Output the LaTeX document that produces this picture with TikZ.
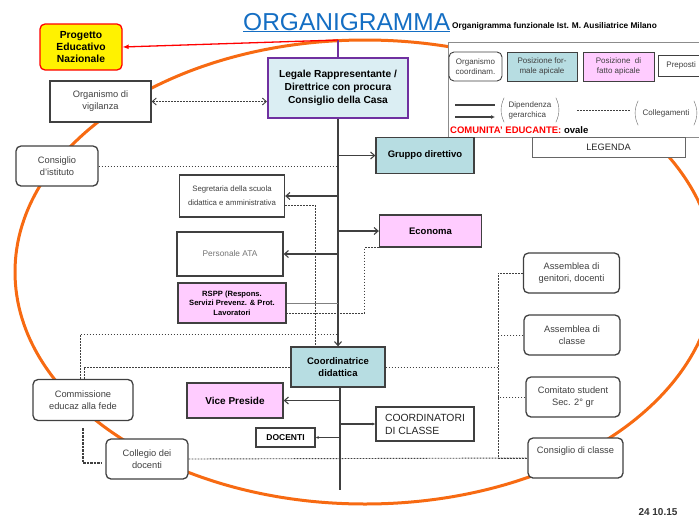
\documentclass[tikz,border=0pt]{standalone}
\usepackage{fontspec}
\setmainfont{Liberation Sans}
\usepackage{xcolor}
\usepackage{tikz}
\usetikzlibrary{arrows.meta,positioning}

\definecolor{boxline}{RGB}{64,64,64}
\definecolor{tealfill}{RGB}{183,221,226}
\definecolor{pinkfill}{RGB}{255,204,255}
\definecolor{lightfill}{RGB}{219,238,243}
\definecolor{ovalorange}{RGB}{247,106,18}
\definecolor{titleblue}{RGB}{20,110,195}
\definecolor{legpurple}{RGB}{112,48,160}
\newcommand{\fsz}[2]{\fontsize{#1}{#2}\selectfont}

\begin{document}
\begin{tikzpicture}[x=1pt, y=-1pt,
  box/.style={rectangle, draw=boxline, line width=1.3pt, inner sep=1pt, align=center, fill=white, text=black!75, font=\fsz{9.3}{12}},
  rbox/.style={box, rounded corners=5pt},
  tealbox/.style={box, fill=tealfill, text=black, font=\fsz{9.5}{12}\bfseries},
  pinkbox/.style={box, fill=pinkfill, text=black, font=\fsz{9.5}{12}\bfseries},
  legtext/.style={font=\fsz{8}{10}, text=black!75},
  link/.style={draw=boxline, line width=0.9pt, dash pattern=on 1.8pt off 1.2pt},
  hier/.style={draw=boxline, line width=1.1pt},
  barb/.style={hier, -{Straight Barb[length=4pt,width=7pt]}},
  dotarr/.style={hier, -{Latex[length=3pt,width=3pt]}}]
            \useasboundingbox (0,0) rectangle (699,517);
            \clip (0,0) rectangle (699,517);

            \draw [ovalorange, line width=3pt] (365,272) ellipse [x radius=350, y radius=232];

            \node (title) [anchor=base west, inner sep=0pt, text=titleblue, font=\fsz{24.5}{28}] at (243,30) {\underline{ORGANIGRAMMA}};
            \node (sub) [anchor=base west, inner sep=0pt, font=\fsz{8.3}{9}\bfseries] at (452,28) {Organigramma funzionale Ist. M. Ausiliatrice Milano};

            \node (legbox) [draw=black!45, line width=1pt, fill=white, inner sep=0pt, minimum width=262, minimum height=95, anchor=north west] at (448,42) {};
            \node (lorg) [rbox, line width=0.9pt, legtext, minimum width=53, minimum height=29] at (475.5,66.5) {Organismo\\coordinam.};
            \node (lfor) [box, fill=tealfill, line width=0.9pt, legtext, minimum width=70, minimum height=29] at (542,66.5) {Posizione for-\\male apicale};
            \node (lfat) [box, fill=pinkfill, line width=0.9pt, legtext, minimum width=71, minimum height=29] at (618.5,66.5) {Posizione\ \ di\\fatto apicale};
            \node (lpre) [box, line width=0.9pt, legtext, anchor=west, align=left, text width=44pt, inner xsep=8pt, minimum height=21] at (658,65.5) {Preposti};
            \draw [hier] (455,105) -- (495,105);
            \draw [hier, -{Latex[length=4pt,width=4pt]}] (455,117) -- (495,117);
            \node (ldip) [legtext, align=left] at (530,110) {Dipendenza\\gerarchica};
            \draw [black!60] ([xshift=-1pt]ldip.north west) to[bend right=25] ([xshift=-1pt]ldip.south west);
            \draw [black!60] ([xshift=1pt]ldip.north east) to[bend left=25] ([xshift=1pt]ldip.south east);
            \draw [link] (577,110) -- (630,110);
            \node (lcol) [legtext, minimum height=24] at (666,113) {Collegamenti};
            \draw [black!60] ([xshift=-1pt]lcol.north west) to[bend right=25] ([xshift=-1pt]lcol.south west);
            \draw [black!60] ([xshift=1pt]lcol.north east) to[bend left=25] ([xshift=1pt]lcol.south east);
            \node (lcom) [anchor=base west, inner sep=0pt, font=\fsz{9.5}{11}\bfseries, text=red] at (450,133) {COMUNITA' EDUCANTE: \textcolor{black}{ovale}};
            \node (lgd) [box, line width=1pt, draw=black!60, text=black!85, font=\fsz{9.3}{11}, minimum width=153, minimum height=20] at (608.5,147) {LEGENDA};

            \node (pen) [box, fill=yellow, draw=red, rounded corners=5pt, text=black, font=\fsz{10.3}{12}\bfseries, minimum width=82, minimum height=46] at (81,47) {Progetto\\Educativo\\Nazionale};
            \node (leg) [box, fill=lightfill, draw=legpurple, line width=2pt, text=black, font=\fsz{10.2}{13}\bfseries, minimum width=140, minimum height=60] at (338,88) {Legale Rappresentante /\\Direttrice con procura\\Consiglio della Casa};
            \coordinate (top) at (338,40);
            \node (vig) [box, minimum width=101, minimum height=41] at (100.5,101.5) {Organismo di\\vigilanza};
            \node (cdi) [rbox, minimum width=82, minimum height=40] at (57,166) {Consiglio\\d'istituto};
            \node (grp) [tealbox, minimum width=98, minimum height=36] at (425,155.5) {Gruppo direttivo};
            \node (seg) [box, font=\fsz{7.8}{14}, minimum width=105, minimum height=42] at (232,196) {Segretaria della scuola\\didattica e amministrativa};
            \node (eco) [pinkbox, minimum width=102, minimum height=32] at (430.5,231) {Economa};
            \node (ata) [box, text=black!55, font=\fsz{8.3}{10}, minimum width=106, minimum height=44] at (230,254) {Personale ATA};
            \node (rsp) [pinkbox, font=\fsz{7.6}{9.5}\bfseries, minimum width=108, minimum height=40] at (232,303) {RSPP (Respons.\\Servizi Prevenz. \& Prot.\\Lavoratori};
            \node (cod) [tealbox, minimum width=94, minimum height=40] at (338,367) {Coordinatrice\\didattica};
            \node (fed) [rbox, minimum width=100, minimum height=41] at (83,400) {Commissione\\educaz alla fede};
            \node (vp) [pinkbox, font=\fsz{10}{12}\bfseries, minimum width=96, minimum height=35] at (235,400.5) {Vice Preside};
            \node (doc) [box, text=black, font=\fsz{8.5}{10}\bfseries, minimum width=59, minimum height=19] at (285.5,437.5) {DOCENTI};
            \node (crd) [box, text=black!85, font=\fsz{10.4}{13}, align=left, minimum width=98, minimum height=34] at (425,424) {COORDINATORI\\DI CLASSE};
            \node (col) [rbox, minimum width=82, minimum height=40] at (147,459) {Collegio dei\\docenti};
            \node (agd) [rbox, minimum width=96, minimum height=40] at (571.5,273) {Assemblea di\\genitori, docenti};
            \node (adc) [rbox, minimum width=96, minimum height=40] at (572,335) {Assemblea di\\classe};
            \node (cst) [rbox, minimum width=94, minimum height=40] at (573,397) {Comitato student\\Sec. 2° gr};
            \node (cdc) [rbox, minimum width=95, minimum height=40] at (575.5,458) {Consiglio di classe\\\strut};
            \node (date) [font=\fsz{10}{11}\bfseries, text=black!80] at (658,512) {24 10.15};

            \coordinate (tail) at (340,490);
            \coordinate (bustop) at (498,273);
            \coordinate (busbot) at (498,458);

            \draw [legpurple, line width=1.2pt] (top) -- (leg.north);
            \draw [red, line width=1.3pt, -{Latex[length=6pt,width=5pt]}] (top) -- (pen.east);
            \draw [link, {Straight Barb[length=4pt,width=7pt]}-{Straight Barb[length=4pt,width=7pt]}] (vig.east) -- (vig.east -| leg.west);
            \draw [barb] (leg.south) -- (cod.north);
            \draw [barb] (leg.south |- grp.west) -- (grp.west);
            \draw [link] (cdi.east) -- (cdi.east -| leg.south);
            \draw [barb] (leg.south |- seg.east) -- (seg.east);
            \draw [link] ([yshift=-9pt]seg.east) -| ([xshift=-23pt]cod.north);
            \draw [barb] (leg.south |- eco.west) -- (eco.west);
            \draw [barb] (leg.south |- ata.east) -- (ata.east);
            \draw [hier, line width=0.6pt, gray] (rsp.east) -- (rsp.east -| leg.south);
            \draw [link] (eco.south west) -- ++(-14,0) |- ([yshift=-10pt]rsp.east);
            \draw [link] ([xshift=-3pt]fed.north) |- ([yshift=12pt]cod.north);
            \draw [link] ([xshift=1pt]fed.north) |- (cod.west);
            \draw [link, dash pattern=on 2.5pt off 1pt, line width=1.3pt] ([yshift=-7pt]fed.south) |- ([xshift=-4pt,yshift=-4pt]col.west);
            \draw [hier] (cod.south -| tail) -- (tail);
            \draw [barb] (tail |- vp.east) -- (vp.east);
            \draw [dotarr] (tail |- doc.east) -- (doc.east);
            \draw [dotarr] (tail |- crd.west) -- (crd.west);
            \draw [link] (col.east) -- (cdc.west);
            \draw [link] (agd.west) -- (bustop) -- (busbot) -- (cdc.west);
            \draw [link] (adc.west) -- (adc.west -| bustop);
            \draw [link] (cst.west) -- (cst.west -| bustop);
            \draw [link] (cod.east) -- (cod.east -| bustop);
\end{tikzpicture}
\end{document}
